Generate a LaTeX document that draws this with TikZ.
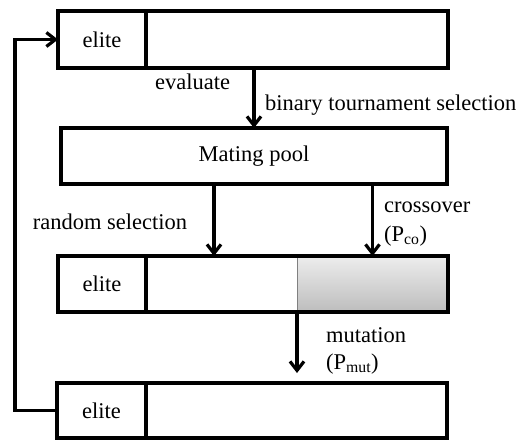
\documentclass[tikz,border=0pt]{standalone}
\usepackage{fontspec}
\setmainfont{Liberation Serif}
\usetikzlibrary{arrows.meta}
\definecolor{shadeTop}{HTML}{EDEDED}
\definecolor{shadeBot}{HTML}{BDBDBD}
\begin{document}
\begin{tikzpicture}[x=1pt,y=-1pt,
  every node/.style={font=\fontsize{22.5}{27}\selectfont},
  cell/.style={rectangle,inner sep=0pt,outer sep=0pt},
  frame/.style={line width=3.2pt,line join=miter},
  arr/.style={line width=3.2pt,-{Straight Barb[length=9pt,width=14pt]}},
  lbl/.style={inner sep=0pt,anchor=west}]
\useasboundingbox (0,0) rectangle (528,440);

% population of generation t
\node[cell,minimum width=88pt,minimum height=57pt] (e1) at (102,39.5) {elite};
\node[cell,minimum width=302pt,minimum height=57pt] (r1) at (297,39.5) {};
\draw[frame] (e1.north west) rectangle (r1.south east);
\draw[frame] (e1.north east) -- (e1.south east);

% mating pool
\node[cell,minimum width=386pt,minimum height=56pt] (mp) at (254,156) {Mating pool};
\draw[frame] (mp.north west) rectangle (mp.south east);

% offspring after crossover
\node[cell,minimum width=88pt,minimum height=56pt] (e2) at (102,284) {elite};
\node[cell,minimum width=151pt,minimum height=56pt] (w2) at (221.5,284) {};
\node[cell,minimum width=151pt,minimum height=56pt,top color=shadeTop,bottom color=shadeBot] (g2) at (372.5,284) {};
\draw[gray,line width=0.8pt] (g2.north west) -- (g2.south west);
\draw[frame] (e2.north west) rectangle (g2.south east);
\draw[frame] (e2.north east) -- (e2.south east);

% population of generation t+1
\node[cell,minimum width=89pt,minimum height=55pt] (e3) at (101.5,410.5) {elite};
\node[cell,minimum width=301pt,minimum height=55pt] (r3) at (296.5,410.5) {};
\draw[frame] (e3.north west) rectangle (r3.south east);
\draw[frame] (e3.north east) -- (e3.south east);

% operators
\draw[arr] (mp.north |- r1.south) -- (mp.north);
\draw[arr] ([xshift=-40pt]mp.south) -- ([xshift=-40pt]mp.south |- w2.north);
\draw[arr] (g2.north |- mp.south) -- (g2.north);
\draw[arr,shorten >=10pt] (g2.south west) -- (g2.south west |- r3.north);

% elitism loop
\coordinate (lp) at (15,0);
\draw[arr] (e3.west) -- (e3.west -| lp) |- (e1.west);

% labels
\node[inner sep=0pt] (lev) at (192.5,82) {evaluate};
\node[lbl] (lbt) at (265,105) {binary tournament selection};
\node[inner sep=0pt] (lrs) at (110,222) {random selection};
\node[lbl] (lco) at (384,207) {crossover};
\node[lbl] (lpc) at (384,236) {(P\textsubscript{co})};
\node[lbl] (lmu) at (326,335) {mutation};
\node[lbl] (lpm) at (326,364) {(P\textsubscript{mut})};
\end{tikzpicture}
\end{document}
